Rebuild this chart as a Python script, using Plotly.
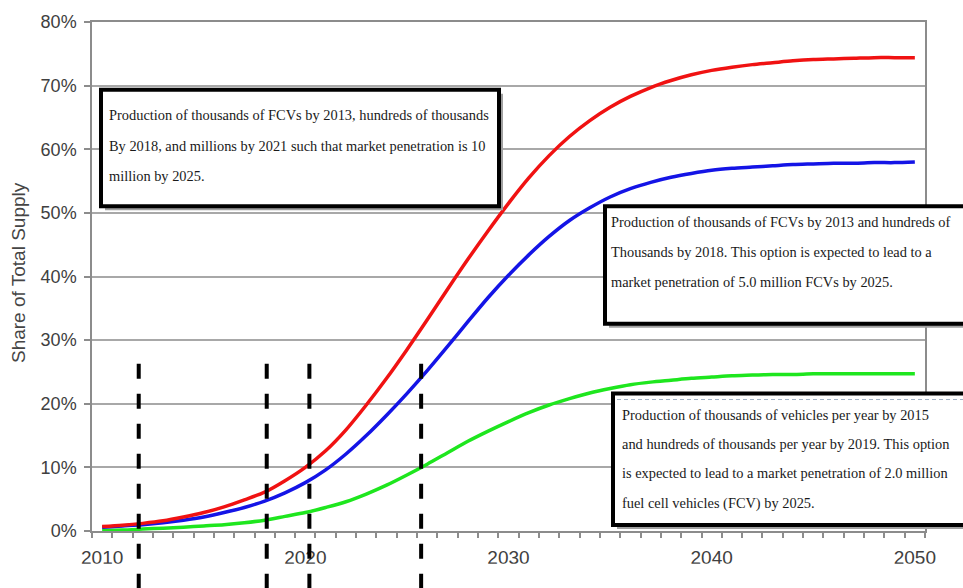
import plotly.graph_objects as go

# ---- data -------------------------------------------------------------
years = list(range(2010, 2051))

# share of total supply (%) for the three production scenarios
share_10m = [0.7, 0.9, 1.2, 1.6, 2.2, 2.9, 3.8, 4.9, 6.1, 7.9,
             10.0, 12.6, 15.9, 19.8, 24.0, 28.5, 33.2, 38.0, 42.7, 47.2,
             51.5, 55.5, 59.0, 62.0, 64.5, 66.6, 68.3, 69.7, 70.8, 71.7,
             72.4, 72.9, 73.3, 73.6, 73.9, 74.1, 74.2, 74.3, 74.4, 74.4,
             74.4]
share_5m = [0.6, 0.8, 1.0, 1.3, 1.7, 2.2, 2.9, 3.7, 4.7, 6.0,
            7.6, 9.6, 12.1, 15.0, 18.2, 21.6, 25.2, 29.0, 32.9, 36.7,
            40.2, 43.4, 46.3, 48.8, 50.8, 52.5, 53.8, 54.8, 55.6, 56.2,
            56.7, 57.0, 57.2, 57.4, 57.6, 57.7, 57.8, 57.8, 57.9, 57.9,
            58.0]
share_2m = [0.1, 0.15, 0.3, 0.45, 0.6, 0.8, 1.0, 1.3, 1.7, 2.3,
            2.9, 3.7, 4.6, 5.8, 7.2, 8.8, 10.5, 12.3, 14.1, 15.7,
            17.2, 18.6, 19.8, 20.8, 21.7, 22.4, 23.0, 23.4, 23.7, 24.0,
            24.2, 24.4, 24.5, 24.6, 24.6, 24.7, 24.7, 24.7, 24.7, 24.7,
            24.7]

milestone_years = [2011.8, 2018.1, 2020.2, 2025.7]
x_tick_years = [2010, 2020, 2030, 2040, 2050]
y_tick_values = [0, 10, 20, 30, 40, 50, 60, 70, 80]

y_title = "Share of Total Supply"

box_10m = ["Production of thousands of FCVs by 2013, hundreds of thousands",
           "By 2018, and millions by 2021 such that market penetration is 10",
           "million by 2025."]
box_5m = ["Production of thousands of FCVs by 2013 and hundreds of",
          "Thousands by 2018. This option is expected to lead to a",
          "market penetration of 5.0 million FCVs by 2025."]
box_2m = ["Production of thousands of vehicles per year by 2015",
          "and hundreds of thousands per year by 2019. This option",
          "is expected to lead to a market penetration of 2.0 million",
          "fuel cell vehicles (FCV) by 2025."]

# ---- layout geometry (pixels) ----------------------------------------
W, H = 963, 588
ML, MR, MT, MB = 92, 38, 20, 57
PW, PH = W - ML - MR, H - MT - MB


def px(x):
    return (x - ML) / PW


def py(y):
    return (H - MB - y) / PH


fig = go.Figure()

for vals, color in [(share_2m, "#1ee61e"), (share_5m, "#1414e6"), (share_10m, "#f01212")]:
    fig.add_trace(go.Scatter(
        x=years, y=vals, mode="lines",
        line=dict(color=color, width=3.5, shape="spline", smoothing=0.8),
        showlegend=False, hoverinfo="skip"))

shapes = []
annotations = []

# text boxes with a soft drop shadow
SERIF = "Liberation Serif, Times New Roman, serif"
boxes = [
    (101, 499, 88, 205, 107, [113, 144, 175], box_10m),
    (605, 980, 205, 323, 609, [221, 251, 281], box_5m),
    (613, 980, 393, 525, 620, [415, 444, 473, 503], box_2m),
]
for x0, x1, y0, y1, tx, tys, lines in boxes:
    shapes.append(dict(type="rect", xref="paper", yref="paper",
                       x0=px(x0 + 4), x1=px(x1 + 4), y0=py(y1 + 4), y1=py(y0 + 4),
                       fillcolor="#a0a0a0", line=dict(width=0), layer="above"))
    shapes.append(dict(type="rect", xref="paper", yref="paper",
                       x0=px(x0), x1=px(x1), y0=py(y1), y1=py(y0),
                       fillcolor="white", line=dict(color="black", width=4),
                       layer="above"))
    for ty, line in zip(tys, lines):
        annotations.append(dict(text=line, xref="paper", yref="paper",
                                x=px(tx), y=py(ty), xanchor="left", yanchor="middle",
                                showarrow=False,
                                font=dict(family=SERIF, size=14.4, color="#1a1a1a")))

# thin dashed rule along the top of the lower box
shapes.append(dict(type="line", xref="paper", yref="paper",
                   x0=px(617), x1=px(963), y0=py(399), y1=py(399),
                   line=dict(color="#9fb0c4", width=1, dash="4px,3px"), layer="above"))

# white band trimming the bottom of the year labels
shapes.append(dict(type="rect", xref="paper", yref="paper",
                   x0=-0.2, x1=1.2, y0=py(H + 10), y1=py(564),
                   fillcolor="white", line=dict(width=0), layer="above"))

# milestone markers
for yr in milestone_years:
    shapes.append(dict(type="line", xref="x", yref="paper",
                       x0=yr, x1=yr, y0=py(363), y1=py(H + 10),
                       line=dict(color="black", width=4, dash="15px,15px"),
                       layer="above"))

annotations.append(dict(text=y_title, xref="paper", yref="paper",
                        x=px(18), y=py(272), xanchor="center", yanchor="middle",
                        textangle=-90, showarrow=False,
                        font=dict(family="Liberation Sans, Arial", size=19, color="#454545")))

fig.update_layout(
    width=W, height=H,
    margin=dict(l=ML, r=MR, t=MT, b=MB),
    paper_bgcolor="white", plot_bgcolor="white",
    shapes=shapes, annotations=annotations,
    xaxis=dict(
        range=[2009.5, 2050.5], tickmode="array", tickvals=x_tick_years,
        ticktext=[str(v) for v in x_tick_years],
        ticks="outside", ticklen=8, tickcolor="rgba(0,0,0,0)",
        showgrid=False, zeroline=False,
        showline=True, linecolor="#8c8c8c", linewidth=1.5, mirror=True,
        tickfont=dict(family="Liberation Sans, Arial", size=19, color="#404040"),
        minor=dict(tickmode="linear", tick0=2009.5, dtick=1, ticks="outside",
                   ticklen=5, tickcolor="#8c8c8c", tickwidth=1.5, showgrid=False),
    ),
    yaxis=dict(
        range=[0, 80], tickmode="array", tickvals=y_tick_values,
        ticktext=[f"{v}%" for v in y_tick_values],
        ticks="outside", ticklen=6, tickcolor="#8c8c8c", tickwidth=1.5,
        ticklabelstandoff=4,
        showgrid=True, gridcolor="#a8a8a8", gridwidth=1.6,
        zeroline=False,
        showline=True, linecolor="#8c8c8c", linewidth=1.5, mirror=True,
        tickfont=dict(family="Liberation Sans, Arial", size=18, color="#404040"),
    ),
)

fig.write_html("out.html")
